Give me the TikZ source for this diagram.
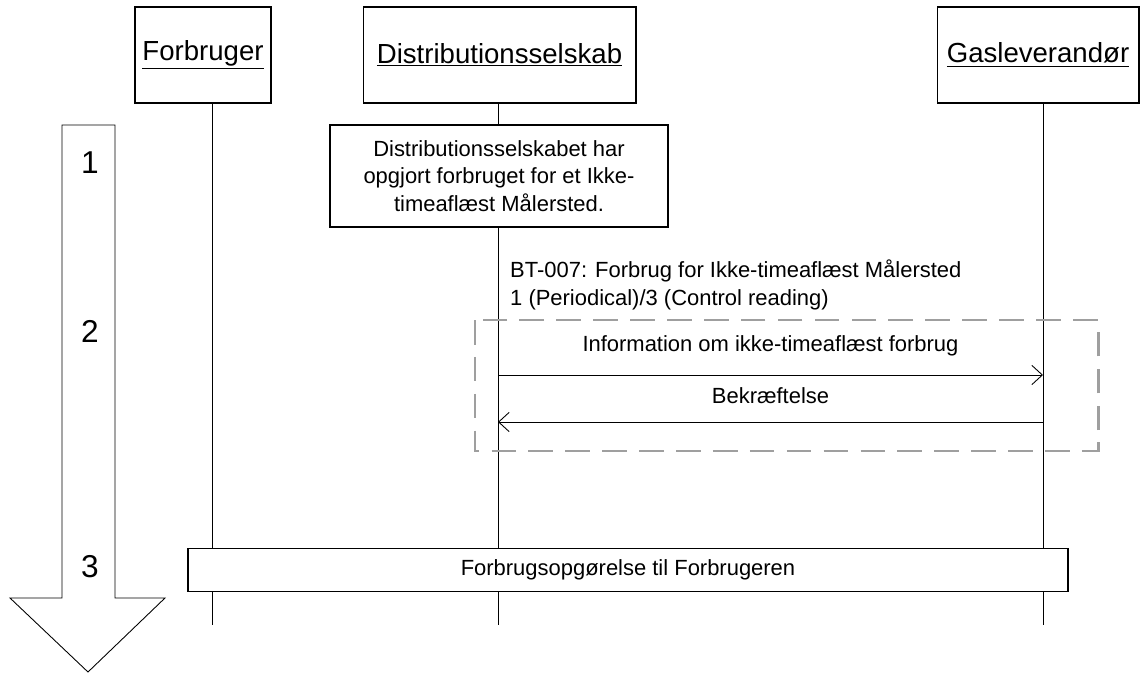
\documentclass[tikz,border=0pt]{standalone}
\usepackage{fontspec}
\setmainfont{Liberation Sans}
\usetikzlibrary{arrows.meta,positioning,calc}

\begin{document}
\begin{tikzpicture}[
    x=0.02cm, y=-0.02cm,
    actor/.style={rectangle, draw, line width=0.6pt, minimum width=2.72cm, minimum height=1.92cm, font=\fontsize{15.7}{18}\selectfont, inner sep=0pt},
    lifeline/.style={draw, line width=0.5pt},
    msg/.style={draw, line width=0.5pt, -{Straight Barb[length=6pt, width=11pt]}},
    txt/.style={font=\fontsize{12.5}{15.5}\selectfont},
    stepno/.style={font=\fontsize{18}{20}\selectfont}
]
\useasboundingbox (0,0) rectangle (1140,673);

% Actors
\node[actor, minimum width=2.72cm] (forb) at (203,55) {\underline{Forbruger}};
\node[actor, minimum width=5.46cm] (dist) at (499.5,55) {\underline{Distributionsselskab}};
\node[actor, minimum width=4.04cm] (gas) at (1038,55) {\underline{Gasleverandør}};

% Lifelines
\coordinate (forbEnd) at (212,625);
\coordinate (distEnd) at (498,625);
\coordinate (gasEnd) at (1043,625);
\draw[lifeline] (forb.south -| forbEnd) -- (forbEnd);
\draw[lifeline] (dist.south -| distEnd) -- (distEnd);
\draw[lifeline] (gas.south -| gasEnd) -- (gasEnd);

% Step arrow
\draw[line width=0.5pt, fill=white] (62,125) -- (115,125) -- (115,598) -- (165,598) -- (88,672) -- (10,598) -- (62,598) -- cycle;
\node[stepno] (s1) at (90,163) {1};
\node[stepno] (s2) at (90,331) {2};
\node[stepno] (s3) at (90,567) {3};

% Step 1
\node[draw, fill=white, line width=0.8pt, minimum width=6.76cm, minimum height=2.04cm, txt, align=center] (opgjort) at (499,176)
    {Distributionsselskabet har\\opgjort forbruget for et Ikke-\\timeaflæst Målersted.};

% Step 2
\node[txt, anchor=west, align=left] (bt) at (504,285)
    {BT-007: Forbrug for Ikke-timeaflæst Målersted\\1 (Periodical)/3 (Control reading)};
\draw[gray!75, line width=1.7pt, dash pattern=on 14pt off 7pt] (475,320) rectangle (1098,451);

\coordinate (d1) at (498,375);
\coordinate (g1) at (1043,375);
\coordinate (d2) at (498,422);
\coordinate (g2) at (1043,422);
\draw[msg] (d1) -- node[txt, above=7pt] {Information om ikke-timeaflæst forbrug} (g1);
\draw[msg] (g2) -- node[txt, above=7pt] {Bekræftelse} (d2);

% Step 3
\node[draw, fill=white, line width=0.8pt, minimum width=17.6cm, minimum height=0.86cm, txt] (opg) at (628,570)
    {Forbrugsopgørelse til Forbrugeren};

\end{tikzpicture}
\end{document}
